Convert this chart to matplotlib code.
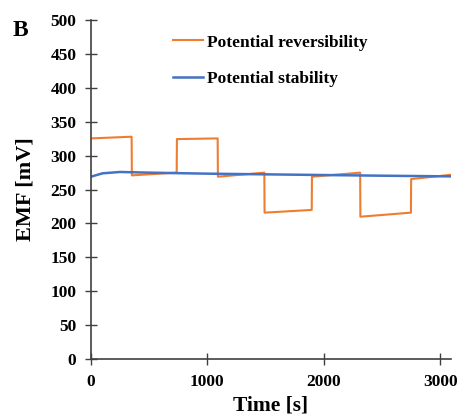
import matplotlib.pyplot as plt

plt.rcParams['font.family'] = ['Liberation Serif', 'DejaVu Serif']
plt.rcParams['font.weight'] = 'bold'

# Potential reversibility (step changes in concentration)
t_rev = [0, 350, 352, 737, 739, 1089, 1091, 1490, 1492, 1897, 1899, 2313, 2315, 2749, 2751, 3100]
emf_rev = [325.5, 328, 271, 275, 324.5, 325.5, 269, 275, 216, 220, 269, 275, 210, 216, 265.5, 272]

# Potential stability
t_stab = [0, 100, 250, 500, 1000, 1500, 2000, 2500, 3100]
emf_stab = [269, 274, 276, 275, 273.5, 272.5, 271.5, 270.5, 269.5]

fig = plt.figure(figsize=(4.59, 4.19), dpi=100)
ax = fig.add_axes([0.198, 0.143, 0.785, 0.809])

ax.plot(t_rev, emf_rev, color='#ED7D31', lw=1.5, label='Potential reversibility')
ax.plot(t_stab, emf_stab, color='#4472C4', lw=1.8, label='Potential stability')

ax.set_xlim(0, 3095)
ax.set_ylim(0, 500)
ax.set_xticks([0, 1000, 2000, 3000])
ax.set_yticks(range(0, 501, 50))
for s in ['top', 'right']:
    ax.spines[s].set_visible(False)
for s in ['left', 'bottom']:
    ax.spines[s].set_color('#404040')
    ax.spines[s].set_linewidth(1.2)
ax.tick_params(direction='inout', length=8, width=1, color='#404040', labelsize=12.5, pad=6.5)
for lab in ax.get_xticklabels() + ax.get_yticklabels():
    lab.set_fontweight('bold')

ax.set_xlabel('Time [s]', fontsize=15.5, fontweight='bold', labelpad=4)
ax.set_ylabel('EMF [mV]', fontsize=16, fontweight='bold', labelpad=11)
fig.text(0.028, 0.914, 'B', fontsize=17, fontweight='bold')

ax.legend(loc='upper left', bbox_to_anchor=(0.228, 0.958), frameon=False,
          borderpad=0, borderaxespad=0, handlelength=1.75, handletextpad=0.2,
          labelspacing=1.15, prop={'weight': 'bold', 'size': 12.5})

fig.savefig('out.png', dpi=100)
